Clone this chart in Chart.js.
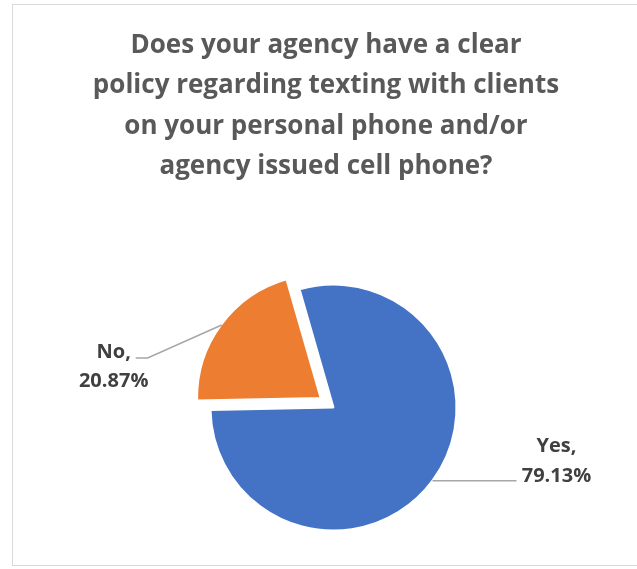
<!DOCTYPE html>
<html>
<head>
<meta charset="utf-8">
<title>Texting policy survey</title>
<script src="https://cdn.jsdelivr.net/npm/chart.js@4.4.1/dist/chart.umd.min.js"></script>
<style>
  html, body { margin: 0; padding: 0; background: #fff; overflow: hidden; }
  .frame {
    position: absolute; left: 12px; top: 4px;
    width: 650px; height: 560px;
    border: 1.5px solid #d9d9d9;
  }
  .chart-container {
    position: absolute; left: 0; top: 0;
    width: 637px; height: 569px;
  }
</style>
</head>
<body>
<div class="frame"></div>
<div class="chart-container"><canvas id="pieChart"></canvas></div>
<script>
// Survey answers (percent of respondents)
const categories = ['Yes', 'No'];
const percentages = [79.13, 20.87];
const sliceColors = ['#4472C4', '#ED7D31'];
const explode = [0, 64];   // "No" slice pulled out of the pie

const titleLines = [
    'Does your agency have a clear',
    'policy regarding texting with clients',
    'on your personal phone and/or',
    'agency issued cell phone?'
];

// leader line bends and text placement, relative to the slice's outer edge
const labelLayout = [
    { leader: [[84, 0]], textDx: 124, baselines: [-29, 1] },
    { leader: [[-74, 33], [-86, 33]], textDx: -108, baselines: [33, 62] }
];

// nudge the pie a little right of the title's centre line
const centerPie = {
    id: 'centerPie',
    afterLayout(chart) {
        chart.chartArea.left += 7.5;
        chart.chartArea.right += 7.5;
    }
};

// "Category, xx.xx%" labels with grey leader lines
const sliceLabels = {
    id: 'sliceLabels',
    afterDatasetsDraw(chart) {
        const ctx = chart.ctx;
        const meta = chart.getDatasetMeta(0);
        ctx.save();
        meta.data.forEach((arc, i) => {
            const mid = (arc.startAngle + arc.endAngle) / 2;
            const shift = (arc.options.offset || 0) / 4;
            const r = arc.outerRadius + shift;
            const ax = arc.x + Math.cos(mid) * r;
            const ay = arc.y + Math.sin(mid) * r;
            const lay = labelLayout[i];

            ctx.strokeStyle = '#a6a6a6';
            ctx.lineWidth = 1.5;
            ctx.beginPath();
            ctx.moveTo(ax, ay);
            lay.leader.forEach(p => ctx.lineTo(ax + p[0], ay + p[1]));
            ctx.stroke();

            ctx.fillStyle = '#404040';
            ctx.font = 'bold 20px "Open Sans"';
            ctx.textAlign = 'center';
            ctx.textBaseline = 'alphabetic';
            const lines = [categories[i] + ',', percentages[i].toFixed(2) + '%'];
            lines.forEach((t, k) => ctx.fillText(t, ax + lay.textDx, ay + lay.baselines[k]));
        });
        ctx.restore();
    }
};

new Chart(document.getElementById('pieChart'), {
    type: 'pie',
    data: {
        labels: categories,
        datasets: [{
            data: percentages,
            backgroundColor: sliceColors,
            borderColor: '#ffffff',
            borderWidth: 2,
            offset: explode,
            radius: 123
        }]
    },
    options: {
        responsive: true,
        maintainAspectRatio: false,
        animation: false,
        rotation: -16,
        layout: { padding: { left: 15 } },
        plugins: {
            legend: { display: false },
            tooltip: { enabled: false },
            title: {
                display: true,
                text: titleLines,
                color: '#595959',
                font: { family: 'Open Sans', size: 26, weight: 'bold', lineHeight: 1.54 },
                padding: { top: 26, bottom: 60 }
            }
        }
    },
    plugins: [centerPie, sliceLabels]
});
</script>
</body>
</html>
